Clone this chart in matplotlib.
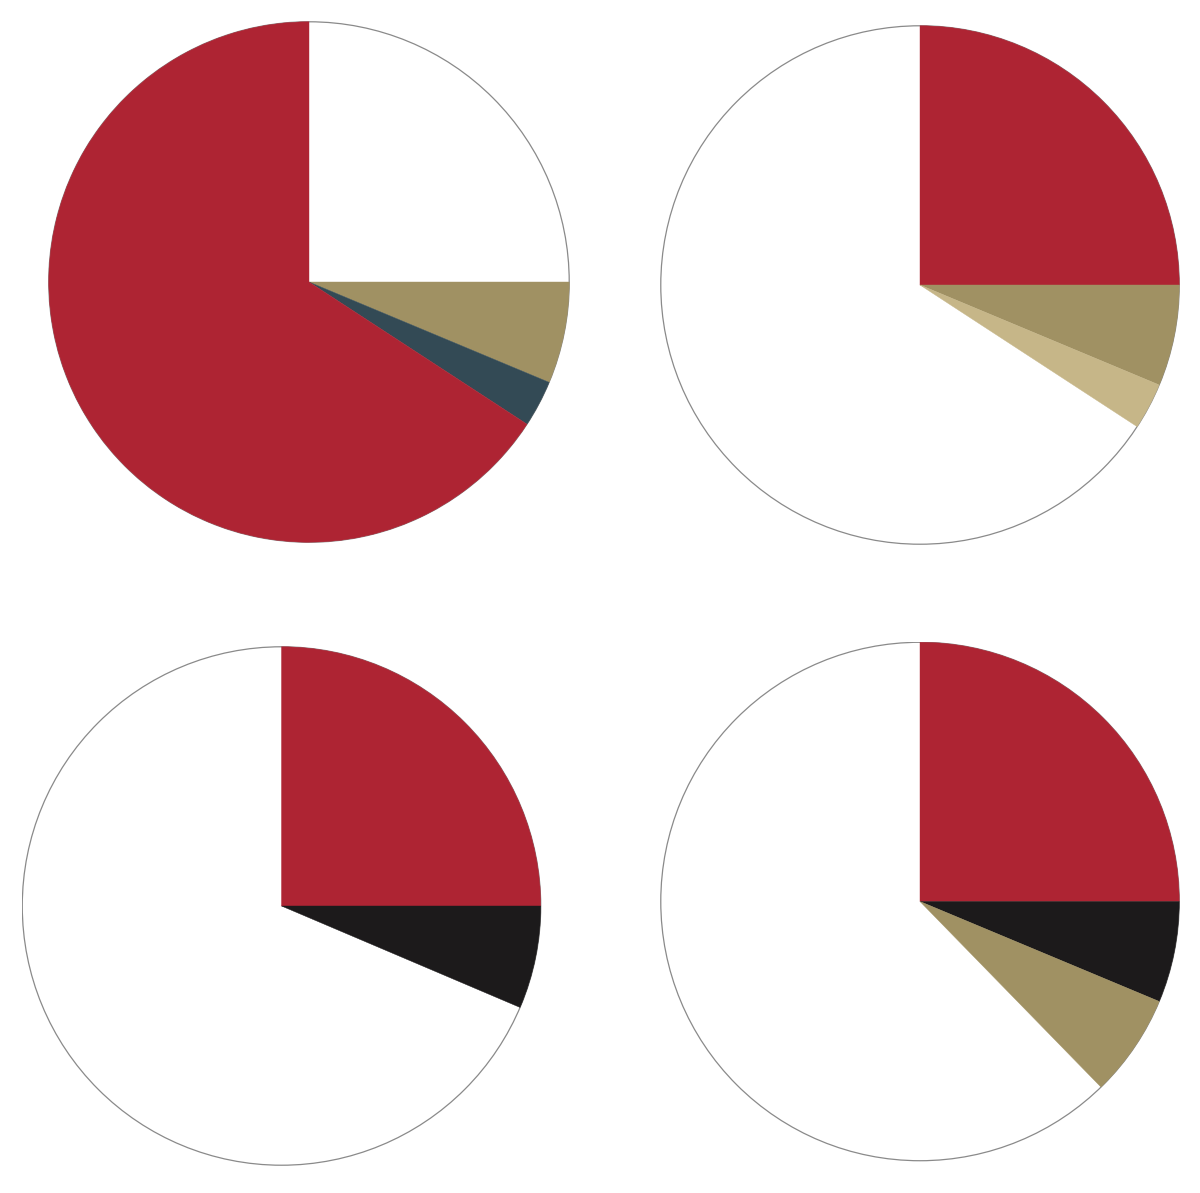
import matplotlib
matplotlib.use('Agg')
import matplotlib.pyplot as plt

# slice shares, clockwise from 12 o'clock
pie1_vals = [25.0, 6.3, 2.9, 65.8]
pie1_cols = ['#FFFFFF', '#A09163', '#334A55', '#AE2433']
pie2_vals = [25.0, 6.3, 2.9, 65.8]
pie2_cols = ['#AE2433', '#A09163', '#C6B688', '#FFFFFF']
pie3_vals = [25.0, 6.4, 68.6]
pie3_cols = ['#AE2433', '#1C1A1B', '#FFFFFF']
pie4_vals = [25.0, 6.3, 6.4, 62.3]
pie4_cols = ['#AE2433', '#1C1A1B', '#A09163', '#FFFFFF']

W, H = 1200, 1193
fig = plt.figure(figsize=(W / 100, H / 100), dpi=100)

# centre x, centre y (pixels from top), radius
spots = [(309, 282, 261), (920, 285, 260), (281.5, 906, 260), (920, 901.5, 260)]
data = [(pie1_vals, pie1_cols), (pie2_vals, pie2_cols),
        (pie3_vals, pie3_cols), (pie4_vals, pie4_cols)]

for (cx, cy, r), (vals, cols) in zip(spots, data):
    ax = fig.add_axes([(cx - r) / W, 1 - (cy + r) / H, 2 * r / W, 2 * r / H])
    # thin grey rim, mostly hidden under the coloured wedges
    ax.add_patch(plt.Circle((0, 0), 1, facecolor='none', edgecolor='#8a8a8a',
                            linewidth=0.9, zorder=0))
    wedges, _ = ax.pie(vals, colors=cols, startangle=90, counterclock=False,
                       radius=1)
    for w, c in zip(wedges, cols):
        if c == '#FFFFFF':
            w.set_facecolor('none')
            w.set_edgecolor('none')
        else:
            w.set_edgecolor(c)
            w.set_linewidth(0.3)
    ax.set_xlim(-1.003, 1.003)
    ax.set_ylim(-1.003, 1.003)
    ax.set_aspect('equal')
    ax.axis('off')

fig.savefig('out.png', dpi=100)
